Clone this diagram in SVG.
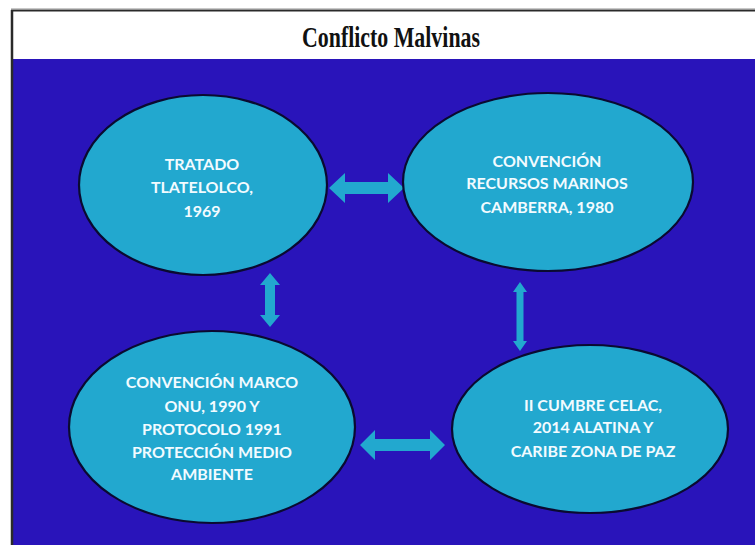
<svg xmlns="http://www.w3.org/2000/svg" width="755" height="545" viewBox="0 0 755 545">
<defs>
<style>
.node ellipse{fill:#22a8cf;stroke:#0a0a30;stroke-width:2.2}
.node text{font-family:Lato,"Open Sans","Liberation Sans",sans-serif;font-weight:bold;font-size:16px;fill:#f2fbff;text-anchor:middle}
.conn path{fill:#22a8cf;stroke:none}
.title{font-family:"Liberation Serif","DejaVu Serif",serif;font-weight:bold;font-size:29px;fill:#111;text-anchor:middle}
</style>
</defs>
<rect x="0" y="0" width="755" height="545" fill="#ffffff"/>
<line x1="11" y1="8.5" x2="755" y2="8.5" stroke="#c8c8c8" stroke-width="1"/>
<rect x="13" y="59" width="742" height="486" fill="#2914ba"/>
<line x1="11" y1="10.5" x2="755" y2="10.5" stroke="#2a2a2a" stroke-width="2"/>
<line x1="12" y1="10" x2="12" y2="545" stroke="#2a2a2a" stroke-width="2.5"/>
<text class="title" x="391" y="47" textLength="178" lengthAdjust="spacingAndGlyphs">Conflicto Malvinas</text>

<g class="conn" id="connectors">
<path d="M329,188 L345,173 L345,182 L388,182 L388,173 L404,188 L388,203 L388,194 L345,194 L345,203 Z"/>
<path d="M360,445 L375,430 L375,439 L430,439 L430,430 L445,445 L430,460 L430,451 L375,451 L375,460 Z"/>
<path d="M270,273 L280,285 L275,285 L275,315 L280,315 L270,327 L260,315 L265,315 L265,285 L260,285 Z"/>
<path d="M520,282 L527,292 L523.5,292 L523.5,341 L527,341 L520,351 L513,341 L516.5,341 L516.5,292 L513,292 Z"/>
</g>

<g class="node" id="node-tratado">
<ellipse cx="203" cy="185" rx="124" ry="90"/>
<text x="202" y="170">TRATADO</text>
<text x="202" y="193">TLATELOLCO,</text>
<text x="202" y="217">1969</text>
</g>

<g class="node" id="node-camberra">
<ellipse cx="548" cy="182" rx="145" ry="89"/>
<text x="547" y="167">CONVENCIÓN</text>
<text x="547" y="189">RECURSOS MARINOS</text>
<text x="547" y="213">CAMBERRA, 1980</text>
</g>

<g class="node" id="node-marco">
<ellipse cx="212" cy="427" rx="143" ry="96"/>
<text x="212" y="388">CONVENCIÓN MARCO</text>
<text x="212" y="412">ONU, 1990 Y</text>
<text x="212" y="435">PROTOCOLO 1991</text>
<text x="212" y="458">PROTECCIÓN MEDIO</text>
<text x="212" y="480">AMBIENTE</text>
</g>

<g class="node" id="node-celac">
<ellipse cx="590" cy="429" rx="138" ry="84"/>
<text x="593" y="411">II CUMBRE CELAC,</text>
<text x="593" y="433">2014 ALATINA Y</text>
<text x="593" y="457">CARIBE ZONA DE PAZ</text>
</g>
</svg>
